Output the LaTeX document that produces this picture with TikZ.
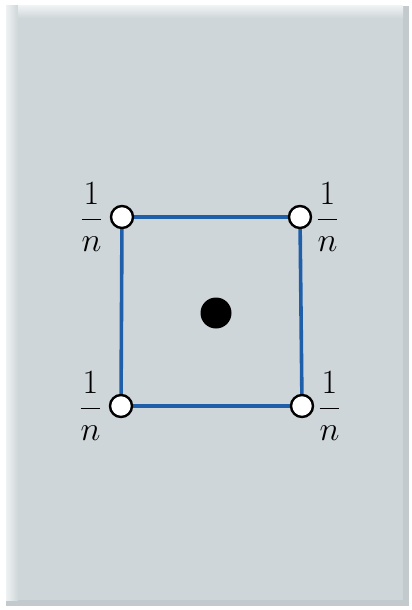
\RequirePackage{fix-cm}
\documentclass[tikz,border=0pt]{standalone}
\usepackage{amsmath}
\usetikzlibrary{positioning}
\definecolor{panelgray}{HTML}{CFD6D9}
\definecolor{panellight}{HTML}{E4E9EB}
\definecolor{paneldark}{HTML}{C3CACE}
\definecolor{edgeblue}{HTML}{1F5FAA}

\begin{document}
\begin{tikzpicture}[
    x=1pt, y=-1pt,
    corner/.style={circle, draw=black, fill=white, line width=2.4pt, minimum size=22pt, inner sep=0pt},
    center/.style={circle, fill=black, minimum size=31pt, inner sep=0pt},
    edge/.style={draw=edgeblue, line width=3.6pt},
    frac/.style={inner sep=0pt, font=\fontsize{34}{40}\selectfont},
]

% Panel
\useasboundingbox (0,0) rectangle (412,610);
\fill[paneldark] (6,6) rectangle (409,606);
\fill[left color=panellight!60!white, right color=panelgray] (6,6) rectangle (18,600);
\fill[top color=panellight!60!white, bottom color=panelgray] (18,6) rectangle (403,18);
\fill[panelgray] (18,18) rectangle (403,600);

% Square
\coordinate (tl) at (122,217);
\coordinate (tr) at (300,217);
\coordinate (bl) at (121,406);
\coordinate (br) at (302,406);
\draw[edge] (tl) -- (tr) -- (br) -- (bl) -- cycle;

% Corners
\node[corner] (ctl) at (tl) {};
\node[corner] (ctr) at (tr) {};
\node[corner] (cbl) at (bl) {};
\node[corner] (cbr) at (br) {};

% Centre charge
\node[center] (mid) at (216,313) {};

% Labels
\node[frac, left=7pt of ctl] {$\dfrac{1}{n}$};
\node[frac, right=4pt of ctr] {$\dfrac{1}{n}$};
\node[frac, left=7pt of cbl] {$\dfrac{1}{n}$};
\node[frac, right=4pt of cbr] {$\dfrac{1}{n}$};

\end{tikzpicture}
\end{document}
